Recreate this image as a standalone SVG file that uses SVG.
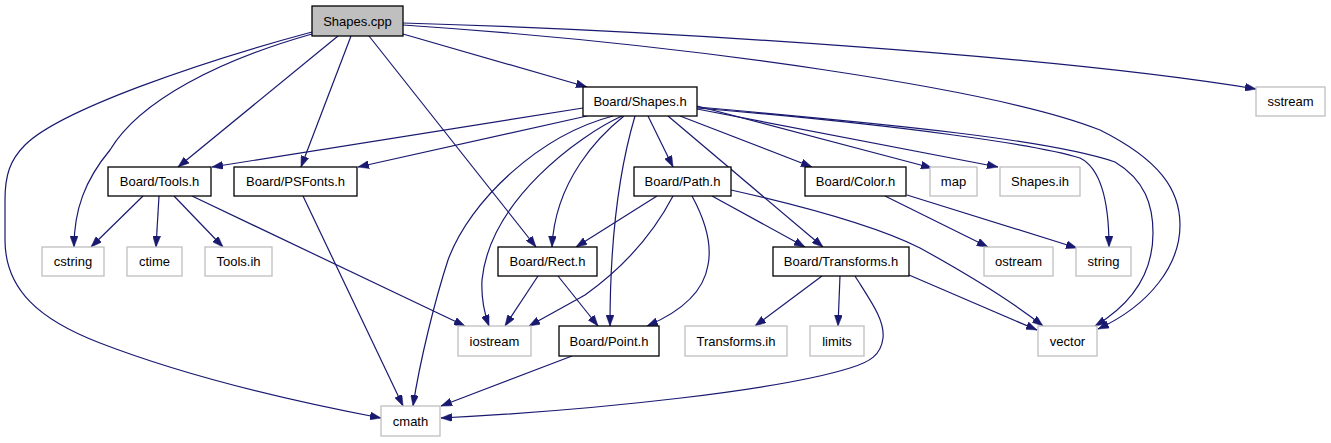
<svg xmlns="http://www.w3.org/2000/svg" width="1331" height="443" viewBox="0 0 1331 443">
<style>
.n rect{fill:#fff;stroke:#000;stroke-width:1.3}
.g rect{fill:#fff;stroke:#bfbfbf;stroke-width:1.3}
.root rect{fill:#bfbfbf;stroke:#000;stroke-width:1.3}
text{font-family:"Liberation Sans",Arial,sans-serif;font-size:13px;text-anchor:middle;fill:#000}
#edges path{fill:none;stroke:#191970;stroke-width:1.2;marker-end:url(#arr)}
</style>
<defs>
<marker id="arr" viewBox="0 0 11 8" refX="11" refY="4" markerWidth="11" markerHeight="8" markerUnits="userSpaceOnUse" orient="auto">
<path d="M0,0 L11,4 L0,8 z" fill="#191970" stroke="#191970" stroke-width="0.5"/>
</marker>
</defs>
<rect width="1331" height="443" fill="#fff"/>
<g id="edges">
<path d="M312,32 C200,62 60,110 25,145 C10,160 5,175 5,200 L5,240 C5,290 40,320 100,343 C170,370 260,395 381,418"/>
<path d="M312,34 C220,60 140,100 110,150 C85,180 74,210 74,247"/>
<path d="M338,36 L178,167"/>
<path d="M351,36 L301,167"/>
<path d="M369,36 L536,247"/>
<path d="M403,34 L587,87"/>
<path d="M403,23 C650,30 1050,55 1256,89"/>
<path d="M403,25 C700,45 1000,90 1100,130 C1160,160 1180,190 1180,225 C1180,265 1150,305 1098,329"/>
<path d="M583,108 L212,167"/>
<path d="M587,116 L358,167"/>
<path d="M613,116 C540,135 470,200 448,260 C435,300 420,360 413,406"/>
<path d="M622,116 C580,135 490,200 482,280 C481,300 485,315 489,326"/>
<path d="M624,116 C600,135 555,180 552,247"/>
<path d="M635,116 C622,160 610,230 610,326"/>
<path d="M648,116 L673,167"/>
<path d="M668,116 L823,247"/>
<path d="M680,116 L812,167"/>
<path d="M697,106 L932,168"/>
<path d="M697,109 L998,167"/>
<path d="M697,108 C900,125 1040,145 1080,158 C1100,168 1109,200 1109,247"/>
<path d="M697,107 C900,125 1050,140 1115,162 C1145,180 1153,205 1153,233 C1153,275 1130,305 1095,326"/>
<path d="M143,196 L91,247"/>
<path d="M159,196 L156,247"/>
<path d="M174,196 L223,247"/>
<path d="M192,196 L465,326"/>
<path d="M303,196 L403,406"/>
<path d="M657,196 L576,247"/>
<path d="M673,196 C650,240 620,270 585,295 L529,326"/>
<path d="M692,196 C705,220 712,245 708,265 C704,290 685,310 647,326"/>
<path d="M712,196 L805,247"/>
<path d="M731,190 C820,210 880,228 920,248 C960,270 1010,300 1043,326"/>
<path d="M885,196 L988,247"/>
<path d="M907,195 L1077,248"/>
<path d="M538,276 L505,326"/>
<path d="M558,276 L598,326"/>
<path d="M822,276 L755,326"/>
<path d="M840,276 L838,326"/>
<path d="M855,276 C870,300 885,320 883,338 C881,355 870,362 850,368 C780,390 600,410 441,418"/>
<path d="M909,275 L1037,330"/>
<path d="M572,356 L441,406"/>
</g>
<g id="n_shapes_cpp" class="root"><rect x="312" y="6" width="91" height="30"/><text x="357.5" y="25.5">Shapes.cpp</text></g>
<g id="n_board_shapes_h" class="n"><rect x="583" y="87" width="114" height="29"/><text x="640" y="106">Board/Shapes.h</text></g>
<g id="n_sstream" class="g"><rect x="1256" y="87" width="69" height="29"/><text x="1290.5" y="106">sstream</text></g>
<g id="n_board_tools_h" class="n"><rect x="108" y="167" width="103" height="29"/><text x="159.5" y="186">Board/Tools.h</text></g>
<g id="n_board_psfonts_h" class="n"><rect x="234" y="167" width="123" height="29"/><text x="295.5" y="186">Board/PSFonts.h</text></g>
<g id="n_board_path_h" class="n"><rect x="634" y="167" width="97" height="29"/><text x="682.5" y="186">Board/Path.h</text></g>
<g id="n_board_color_h" class="n"><rect x="805" y="167" width="101" height="29"/><text x="855.5" y="186">Board/Color.h</text></g>
<g id="n_map" class="g"><rect x="930" y="167" width="47" height="29"/><text x="953.5" y="186">map</text></g>
<g id="n_shapes_ih" class="g"><rect x="1000" y="167" width="80" height="29"/><text x="1040" y="186">Shapes.ih</text></g>
<g id="n_cstring" class="g"><rect x="42" y="247" width="62" height="29"/><text x="73" y="266">cstring</text></g>
<g id="n_ctime" class="g"><rect x="127" y="247" width="55" height="29"/><text x="154.5" y="266">ctime</text></g>
<g id="n_tools_ih" class="g"><rect x="205" y="247" width="67" height="29"/><text x="238.5" y="266">Tools.ih</text></g>
<g id="n_board_rect_h" class="n"><rect x="498" y="247" width="99" height="29"/><text x="547.5" y="266">Board/Rect.h</text></g>
<g id="n_board_transforms_h" class="n"><rect x="773" y="247" width="136" height="29"/><text x="841" y="266">Board/Transforms.h</text></g>
<g id="n_ostream" class="g"><rect x="984" y="247" width="69" height="29"/><text x="1018.5" y="266">ostream</text></g>
<g id="n_string" class="g"><rect x="1076" y="247" width="55" height="29"/><text x="1103.5" y="266">string</text></g>
<g id="n_iostream" class="g"><rect x="458" y="326" width="73" height="30"/><text x="494.5" y="345.5">iostream</text></g>
<g id="n_board_point_h" class="n"><rect x="559" y="326" width="100" height="30"/><text x="609" y="345.5">Board/Point.h</text></g>
<g id="n_transforms_ih" class="g"><rect x="685" y="326" width="102" height="30"/><text x="736" y="345.5">Transforms.ih</text></g>
<g id="n_limits" class="g"><rect x="810" y="326" width="54" height="30"/><text x="837" y="345.5">limits</text></g>
<g id="n_vector" class="g"><rect x="1038" y="326" width="59" height="30"/><text x="1067.5" y="345.5">vector</text></g>
<g id="n_cmath" class="g"><rect x="381" y="406" width="59" height="30"/><text x="410.5" y="425.5">cmath</text></g>
</svg>
